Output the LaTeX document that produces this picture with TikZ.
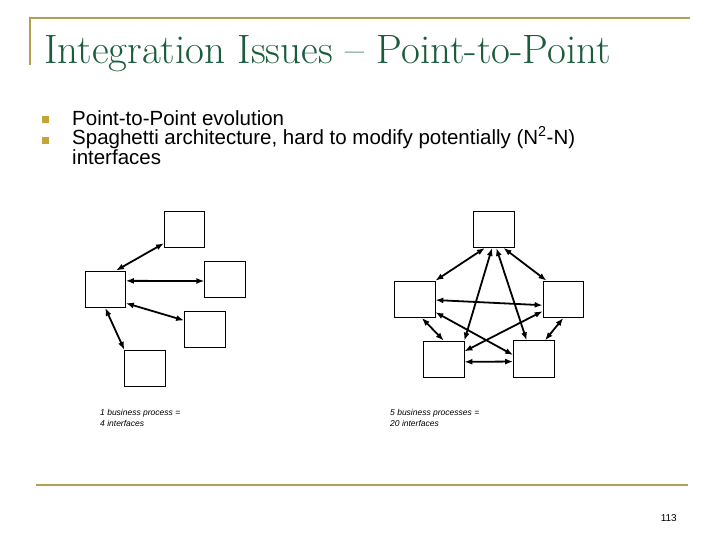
\documentclass[tikz,border=0pt]{standalone}
\usepackage{fontspec}
\setsansfont{Liberation Sans}
\usetikzlibrary{arrows.meta}
\definecolor{rulegold}{RGB}{176,160,80}
\definecolor{titlegreen}{RGB}{26,92,60}
\definecolor{bulletgold}{RGB}{196,164,60}

\begin{document}
\begin{tikzpicture}[x=1pt,y=-1pt,
	proc/.style={draw,line width=0.8pt,minimum width=40.5pt,minimum height=36.5pt,inner sep=0pt},
	link/.style={{Latex[length=8pt,width=6pt]}-{Latex[length=8pt,width=6pt]},line width=1.8pt},
	bullet/.style={fill=bulletgold,minimum size=6.5pt,inner sep=0pt},
	body/.style={anchor=base west,inner sep=0pt,font=\sffamily\fontsize{20.5}{17.6}\selectfont,align=left},
	caption/.style={anchor=base west,inner sep=0pt,font=\sffamily\itshape\fontsize{8.5}{11}\selectfont,align=left}
	]
	\useasboundingbox (0,0) rectangle (720,540);
	% frame rules
	\draw[rulegold,line width=2pt] (30,65) -- (30,18) -- (690,18);
	\draw[rulegold,line width=2.5pt] (36,485) -- (688,485);
	% title and bullets
	\node[anchor=base west,inner sep=0pt,text=titlegreen,font=\fontsize{41}{44}\selectfont] (title) at (44,64) {Integration Issues -- Point-to-Point};
	\node[bullet] (b1) at (45.5,119.5) {};
	\node[bullet] (b2) at (45.5,140.5) {};
	\node[body] (t1) at (72,125.7) {Point-to-Point evolution};
	\node[body] (t2) at (72,164.3) {Spaghetti architecture, hard to modify potentially (N\textsuperscript{2}-N)\\interfaces};

	% one business process
	\node[proc] (hub) at (105.2,289.2) {};
	\node[proc] (q1) at (184.6,229.3) {};
	\node[proc] (q2) at (225,279.2) {};
	\node[proc] (q3) at (204.8,329.2) {};
	\node[proc] (q4) at (145,368.5) {};
	\draw[link] (hub.60) -- (q1.214);
	\draw[link] (hub.22) -- (q2.185);
	\draw[link] (hub.-34) -- (q3.157);
	\draw[link] (hub.south) -- (q4.north west);
	\node[caption] (cap1) at (100,426.7) {1 business process =\\4 interfaces};

	% five business processes
	\node[proc] (p1) at (494,229.3) {};
	\node[proc] (p2) at (414.7,299.3) {};
	\node[proc] (p3) at (563.3,299.3) {};
	\node[proc] (p4) at (443.7,359.3) {};
	\node[proc] (p5) at (533.8,359) {};
	\draw[link] (p2.north east) -- (p1.244);
	\draw[link] (p1.297) -- (p3.132);
	\draw[link] (p2.-2) -- (p3.196);
	\draw[link] (p1.264) -- (p4.north east);
	\draw[link] (p1.277) -- (p5.111);
	\draw[link] (p2.328) -- (p5.169);
	\draw[link] (p3.210) -- (p4.21);
	\draw[link] (p2.291) -- (p4.north);
	\draw[link] (p3.south) -- (p5.59);
	\draw[link] (p4.353) -- (p5.187);
	\node[caption] (cap2) at (390,426.7) {5 business processes =\\20 interfaces};

	\node[anchor=base east,inner sep=0pt,font=\sffamily\fontsize{10}{12}\selectfont] (page) at (677,521) {113};
\end{tikzpicture}
\end{document}
